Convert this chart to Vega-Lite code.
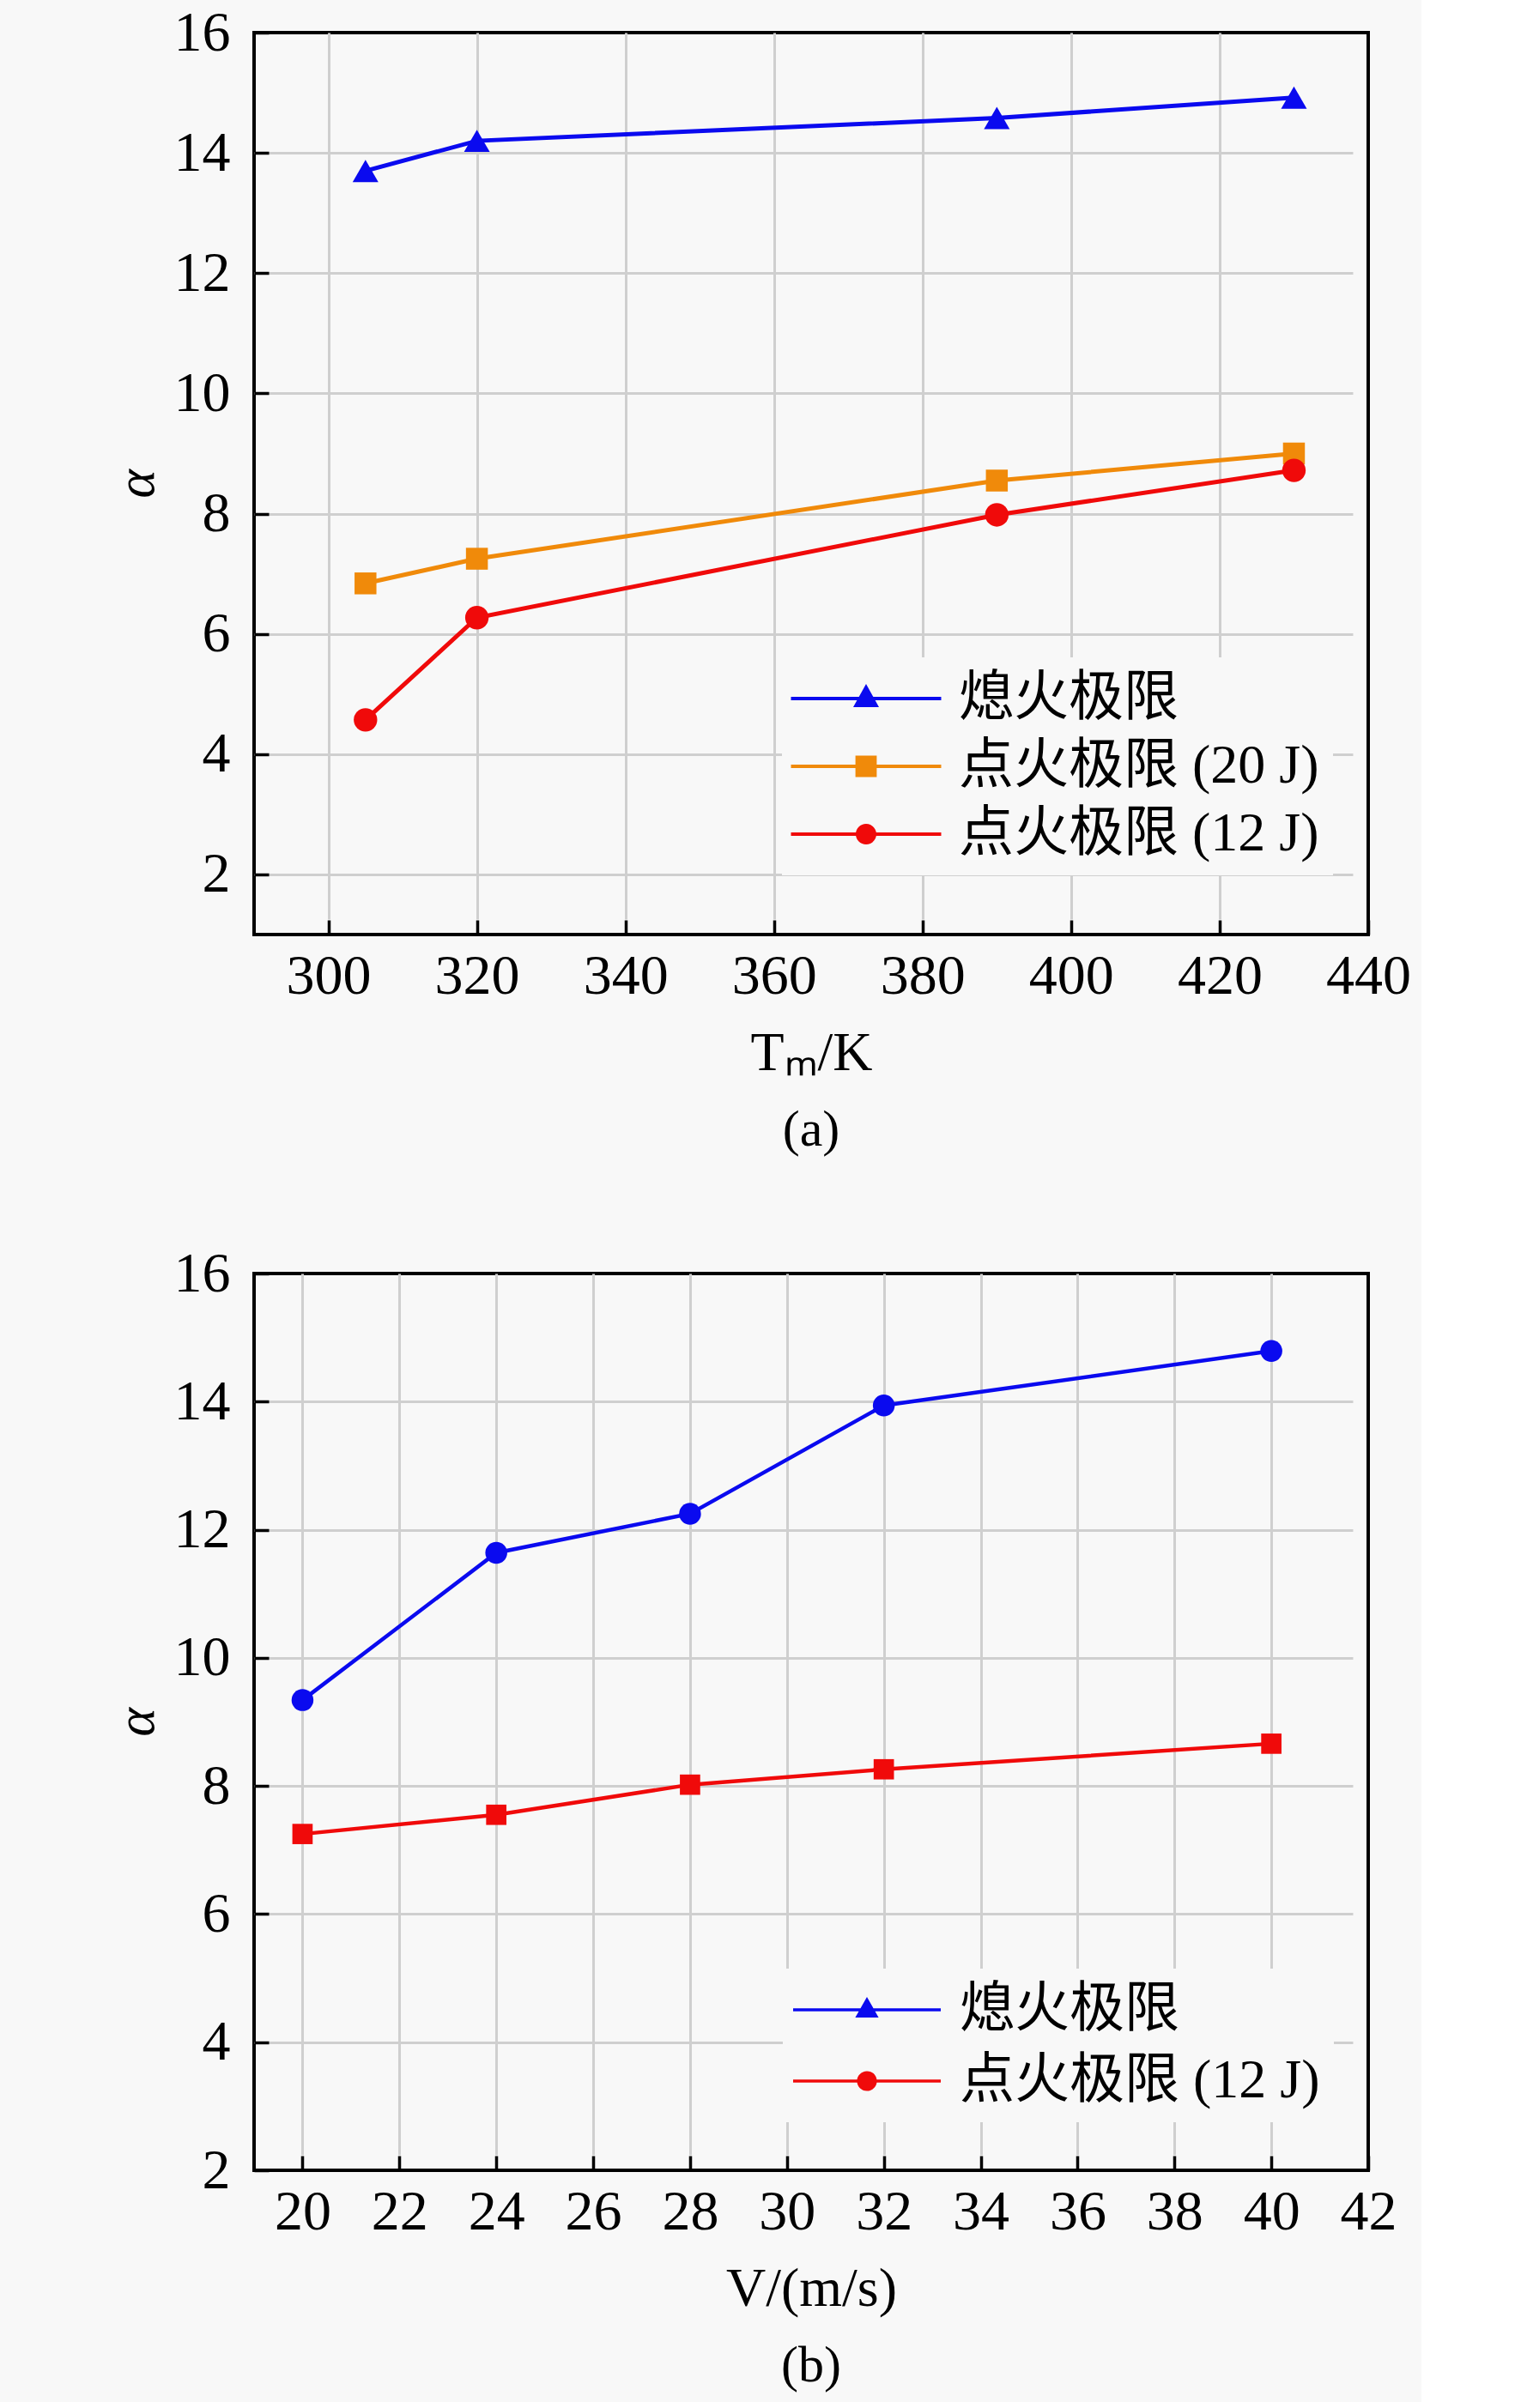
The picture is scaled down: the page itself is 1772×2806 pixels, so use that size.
{
  "$schema": "https://vega.github.io/schema/vega-lite/v6.json",
  "background": "#f8f8f8",
  "padding": {"left": 125, "top": 3, "right": 10, "bottom": 10},
  "spacing": 100,
  "config": {
    "view": {"stroke": "black", "strokeWidth": 4},
    "axis": {
      "labelFont": "Liberation Serif", "labelFontSize": 66, "labelColor": "black",
      "titleFont": "Liberation Serif", "titleFontSize": 64, "titleFontWeight": "normal", "titleColor": "black",
      "ticks": true, "tickColor": "black", "tickWidth": 3.5, "tickSize": -17, "labelPadding": 33, "titlePadding": 25,
      "domain": false, "gridColor": "#cfcfcf", "gridWidth": 3,
      "labelFlush": false, "labelOverlap": false
    },
    "axisY": {"labelPadding": 45, "titlePadding": 11},
    "legend": {
      "labelFont": "Liberation Serif, Noto Sans CJK SC", "labelFontSize": 64, "labelColor": "black", "labelLimit": 2000,
      "fillColor": "#f8f8f8", "padding": 16,
      "symbolSize": 1600, "symbolStrokeWidth": 0, "symbolOffset": 50, "labelOffset": 76,
      "rowPadding": 15, "orient": "none"
    },
    "title": {"font": "Liberation Serif", "fontSize": 60, "fontWeight": "normal", "color": "black"}
  },
  "resolve": {
    "scale": {"color": "independent"},
    "legend": {"color": "independent"}
  },
  "vconcat": [
    {
      "width": 1298,
      "height": 1051,
      "title": {"text": "(a)", "orient": "bottom", "offset": 29},
      "data": {"values": [
        {"T": 305, "alpha": 13.7, "series": "熄火极限"},
        {"T": 320, "alpha": 14.2, "series": "熄火极限"},
        {"T": 390, "alpha": 14.58, "series": "熄火极限"},
        {"T": 430, "alpha": 14.92, "series": "熄火极限"},
        {"T": 305, "alpha": 6.84, "series": "点火极限 (20 J)"},
        {"T": 320, "alpha": 7.25, "series": "点火极限 (20 J)"},
        {"T": 390, "alpha": 8.55, "series": "点火极限 (20 J)"},
        {"T": 430, "alpha": 9.0, "series": "点火极限 (20 J)"},
        {"T": 305, "alpha": 4.57, "series": "点火极限 (12 J)"},
        {"T": 320, "alpha": 6.27, "series": "点火极限 (12 J)"},
        {"T": 390, "alpha": 7.98, "series": "点火极限 (12 J)"},
        {"T": 430, "alpha": 8.72, "series": "点火极限 (12 J)"}
      ]},
      "encoding": {
        "x": {
          "field": "T", "type": "quantitative",
          "scale": {"domain": [290, 440], "nice": false, "zero": false},
          "axis": {
            "values": [300, 320, 340, 360, 380, 400, 420, 440],
            "title": "Tₘ/K",
            "gridDash": [1033, 200],
            "gridOpacity": {"condition": {"test": "datum.value >= 440", "value": 0}, "value": 1}
          }
        },
        "y": {
          "field": "alpha", "type": "quantitative",
          "scale": {"domain": [1, 16], "nice": false, "zero": false},
          "axis": {
            "values": [2, 4, 6, 8, 10, 12, 14, 16],
            "title": "α", "titleFontStyle": "italic",
            "gridDash": [1280, 200],
            "gridOpacity": {"condition": {"test": "datum.value >= 16", "value": 0}, "value": 1}
          }
        }
      },
      "layer": [
        {
          "mark": {"type": "line", "strokeWidth": 5},
          "encoding": {
            "color": {
              "field": "series", "type": "nominal",
              "scale": {"domain": ["熄火极限", "点火极限 (20 J)", "点火极限 (12 J)"], "range": ["#0a0aef", "#f08a0a", "#f00a0a"]},
              "legend": {
                "title": null, "legendX": 615, "legendY": 728, "rowPadding": 15,
                "encode": {"symbols": {"update": {
                  "shape": {"signal": "datum.value == '熄火极限' ? 'M-4.375,-0.1 H4.375 V0.1 H-4.375 Z M0,-0.85 L0.75,0.5 L-0.75,0.5 Z' : datum.value == '点火极限 (20 J)' ? 'M-4.375,-0.1 H4.375 V0.1 H-4.375 Z M-0.62,-0.62 H0.62 V0.62 H-0.62 Z' : 'M-4.375,-0.1 H4.375 V0.1 H-4.375 Z M-0.6,0 A0.6,0.6 0 1,1 0.6,0 A0.6,0.6 0 1,1 -0.6,0 Z'"},
                  "fill": {"signal": "datum.value == '熄火极限' ? '#0a0aef' : datum.value == '点火极限 (20 J)' ? '#f08a0a' : '#f00a0a'"},
                  "strokeWidth": {"value": 0},
                  "opacity": {"value": 1},
                  "fillOpacity": {"value": 1}
                }}}
              }
            }
          }
        },
        {
          "transform": [{"filter": "datum.series == '熄火极限'"}],
          "mark": {"type": "point", "filled": true, "opacity": 1, "shape": "triangle-up", "size": 900, "color": "#0a0aef"}
        },
        {
          "transform": [{"filter": "datum.series == '点火极限 (20 J)'"}],
          "mark": {"type": "point", "filled": true, "opacity": 1, "shape": "square", "size": 650, "color": "#f08a0a"}
        },
        {
          "transform": [{"filter": "datum.series == '点火极限 (12 J)'"}],
          "mark": {"type": "point", "filled": true, "opacity": 1, "shape": "circle", "size": 750, "color": "#f00a0a"}
        }
      ]
    },
    {
      "width": 1298,
      "height": 1045,
      "title": {"text": "(b)", "orient": "bottom", "offset": 29},
      "data": {"values": [
        {"V": 20, "alpha": 9.34, "series": "熄火极限"},
        {"V": 24, "alpha": 11.64, "series": "熄火极限"},
        {"V": 28, "alpha": 12.25, "series": "熄火极限"},
        {"V": 32, "alpha": 13.94, "series": "熄火极限"},
        {"V": 40, "alpha": 14.79, "series": "熄火极限"},
        {"V": 20, "alpha": 7.25, "series": "点火极限 (12 J)"},
        {"V": 24, "alpha": 7.55, "series": "点火极限 (12 J)"},
        {"V": 28, "alpha": 8.02, "series": "点火极限 (12 J)"},
        {"V": 32, "alpha": 8.26, "series": "点火极限 (12 J)"},
        {"V": 40, "alpha": 8.66, "series": "点火极限 (12 J)"}
      ]},
      "encoding": {
        "x": {
          "field": "V", "type": "quantitative",
          "scale": {"domain": [19, 42], "nice": false, "zero": false},
          "axis": {
            "values": [20, 22, 24, 26, 28, 30, 32, 34, 36, 38, 40, 42],
            "title": "V/(m/s)",
            "gridDash": [1027, 200],
            "gridOpacity": {"condition": {"test": "datum.value >= 42", "value": 0}, "value": 1}
          }
        },
        "y": {
          "field": "alpha", "type": "quantitative",
          "scale": {"domain": [2, 16], "nice": false, "zero": false},
          "axis": {
            "values": [2, 4, 6, 8, 10, 12, 14, 16],
            "title": "α", "titleFontStyle": "italic",
            "gridDash": [1280, 200],
            "gridOpacity": {"condition": {"test": "datum.value >= 16 || datum.value <= 2", "value": 0}, "value": 1}
          }
        }
      },
      "layer": [
        {
          "mark": {"type": "line", "strokeWidth": 4.5},
          "encoding": {
            "color": {
              "field": "series", "type": "nominal",
              "scale": {"domain": ["熄火极限", "点火极限 (12 J)"], "range": ["#0a0aef", "#f00a0a"]},
              "legend": {
                "title": null, "legendX": 616, "legendY": 810, "rowPadding": 19,
                "encode": {"symbols": {"update": {
                  "shape": {"signal": "datum.value == '熄火极限' ? 'M-4.3,-0.09 H4.3 V0.09 H-4.3 Z M0,-0.75 L0.68,0.45 L-0.68,0.45 Z' : 'M-4.3,-0.09 H4.3 V0.09 H-4.3 Z M-0.58,0 A0.58,0.58 0 1,1 0.58,0 A0.58,0.58 0 1,1 -0.58,0 Z'"},
                  "fill": {"signal": "datum.value == '熄火极限' ? '#0a0aef' : '#f00a0a'"},
                  "strokeWidth": {"value": 0},
                  "opacity": {"value": 1},
                  "fillOpacity": {"value": 1}
                }}}
              }
            }
          }
        },
        {
          "transform": [{"filter": "datum.series == '熄火极限'"}],
          "mark": {"type": "point", "filled": true, "opacity": 1, "shape": "circle", "size": 650, "color": "#0a0aef"}
        },
        {
          "transform": [{"filter": "datum.series == '点火极限 (12 J)'"}],
          "mark": {"type": "point", "filled": true, "opacity": 1, "shape": "square", "size": 560, "color": "#f00a0a"}
        }
      ]
    }
  ]
}
